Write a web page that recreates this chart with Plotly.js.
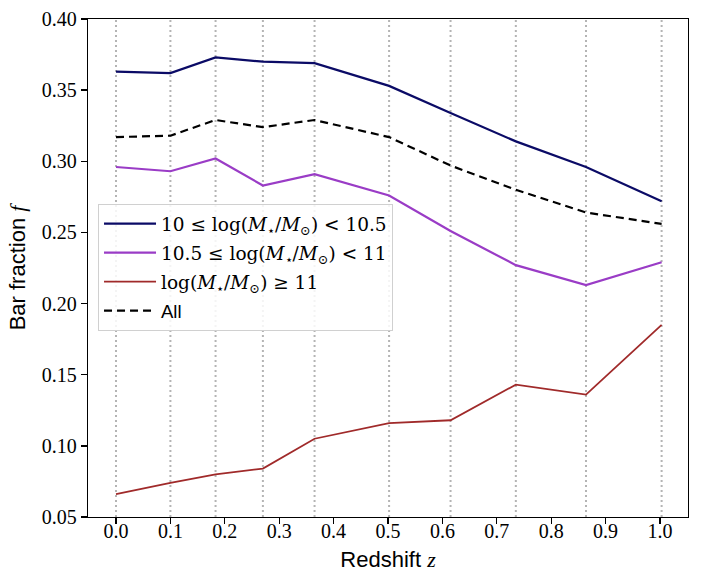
<!DOCTYPE html>
<html>
<head>
<meta charset="utf-8">
<script src="https://cdn.plot.ly/plotly-3.0.1.min.js"></script>
<style>html,body{margin:0;padding:0;background:#fff;}#chart{width:705px;height:587px;}</style>
</head>
<body>
<div id="chart"></div>
<script>
// Redshift bins
var redshift = [0.0, 0.1, 0.183, 0.270, 0.365, 0.502, 0.615, 0.735, 0.864, 1.003];
// Bar fraction per mass bin
var fLow  = [0.363, 0.362, 0.373, 0.370, 0.369, 0.353, 0.334, 0.314, 0.296, 0.272];
var fMid  = [0.296, 0.293, 0.302, 0.283, 0.291, 0.276, 0.251, 0.227, 0.213, 0.229];
var fHigh = [0.066, 0.074, 0.080, 0.084, 0.105, 0.116, 0.118, 0.143, 0.136, 0.185];
var fAll  = [0.317, 0.318, 0.329, 0.324, 0.329, 0.317, 0.297, 0.280, 0.264, 0.256];
var names = [
  '10 ≤ log(<i>M</i><sub>⋆</sub>/<i>M</i><sub>⊙</sub>) < 10.5',
  '10.5 ≤ log(<i>M</i><sub>⋆</sub>/<i>M</i><sub>⊙</sub>) < 11',
  'log(<i>M</i><sub>⋆</sub>/<i>M</i><sub>⊙</sub>) ≥ 11',
  '<span style="font-family:Liberation Sans, Arial, sans-serif">All</span>'
];
var xTicks = [0.0, 0.1, 0.2, 0.3, 0.4, 0.5, 0.6, 0.7, 0.8, 0.9, 1.0];
var yTicks = [0.05, 0.10, 0.15, 0.20, 0.25, 0.30, 0.35, 0.40];

var traces = [
  {x: redshift, y: fLow, name: names[0], mode: 'lines', line: {color: '#0b0b66', width: 2.2}, legendgroup: 'a'},
  {x: redshift, y: fMid, name: names[1], mode: 'lines', line: {color: '#9a3cc6', width: 2.2}, legendgroup: 'b'},
  {x: redshift, y: fHigh, name: names[2], mode: 'lines', line: {color: '#a02a2a', width: 1.8}, legendgroup: 'c'},
  {x: redshift, y: fAll, name: names[3], mode: 'lines', line: {color: '#000000', width: 2.2, dash: '8px,5px'}, legendgroup: 'd'}
];

var shapes = redshift.map(function (z) {
  return {type: 'line', xref: 'x', yref: 'paper', x0: z, x1: z, y0: 0, y1: 1,
          line: {color: '#b4b4b4', width: 2, dash: '2px,3px'}, layer: 'below'};
});

var serif = 'Liberation Serif, Times New Roman, serif';
var wideSerif = 'DejaVu Serif, serif';
var sans = 'Liberation Sans, Arial, sans-serif';

var layout = {
  width: 705, height: 587,
  margin: {l: 88, r: 17, t: 19, b: 70},
  paper_bgcolor: '#fff', plot_bgcolor: '#fff',
  showlegend: true,
  legend: {
    x: 0.0167, y: 0.6285, xanchor: 'left', yanchor: 'top',
    bgcolor: 'rgba(255,255,255,0.85)', bordercolor: '#d0d0d0', borderwidth: 1,
    font: {family: wideSerif, size: 18.5, color: '#000'},
    tracegroupgap: 2, traceorder: 'grouped', itemwidth: 52
  },
  xaxis: {
    range: [-0.0515, 1.0515], tickvals: xTicks, ticktext: xTicks.map(function(v){return v.toFixed(1);}),
    ticks: 'outside', ticklen: 6, tickwidth: 1.3, tickcolor: '#000',
    showline: true, linecolor: '#000', linewidth: 1.3, mirror: true,
    showgrid: false, zeroline: false, ticklabelstandoff: -10,
    tickfont: {family: serif, size: 20, color: '#000'},
    title: {text: 'Redshift <i style="font-family:Liberation Serif, serif">z</i>', font: {family: sans, size: 22, color: '#000'}, standoff: 10}
  },
  yaxis: {
    range: [0.05, 0.40], tickvals: yTicks, ticktext: yTicks.map(function(v){return v.toFixed(2);}),
    ticks: 'outside', ticklen: 6, tickwidth: 1.3, tickcolor: '#000',
    showline: true, linecolor: '#000', linewidth: 1.3, mirror: true,
    showgrid: false, zeroline: false,
    tickfont: {family: serif, size: 20, color: '#000'},
    title: {text: 'Bar fraction <i style="font-family:Liberation Serif, serif">f</i>', font: {family: sans, size: 22, color: '#000'}, standoff: 10}
  },
  shapes: shapes
};

Plotly.newPlot('chart', traces, layout, {staticPlot: true, displayModeBar: false});
</script>
</body>
</html>
